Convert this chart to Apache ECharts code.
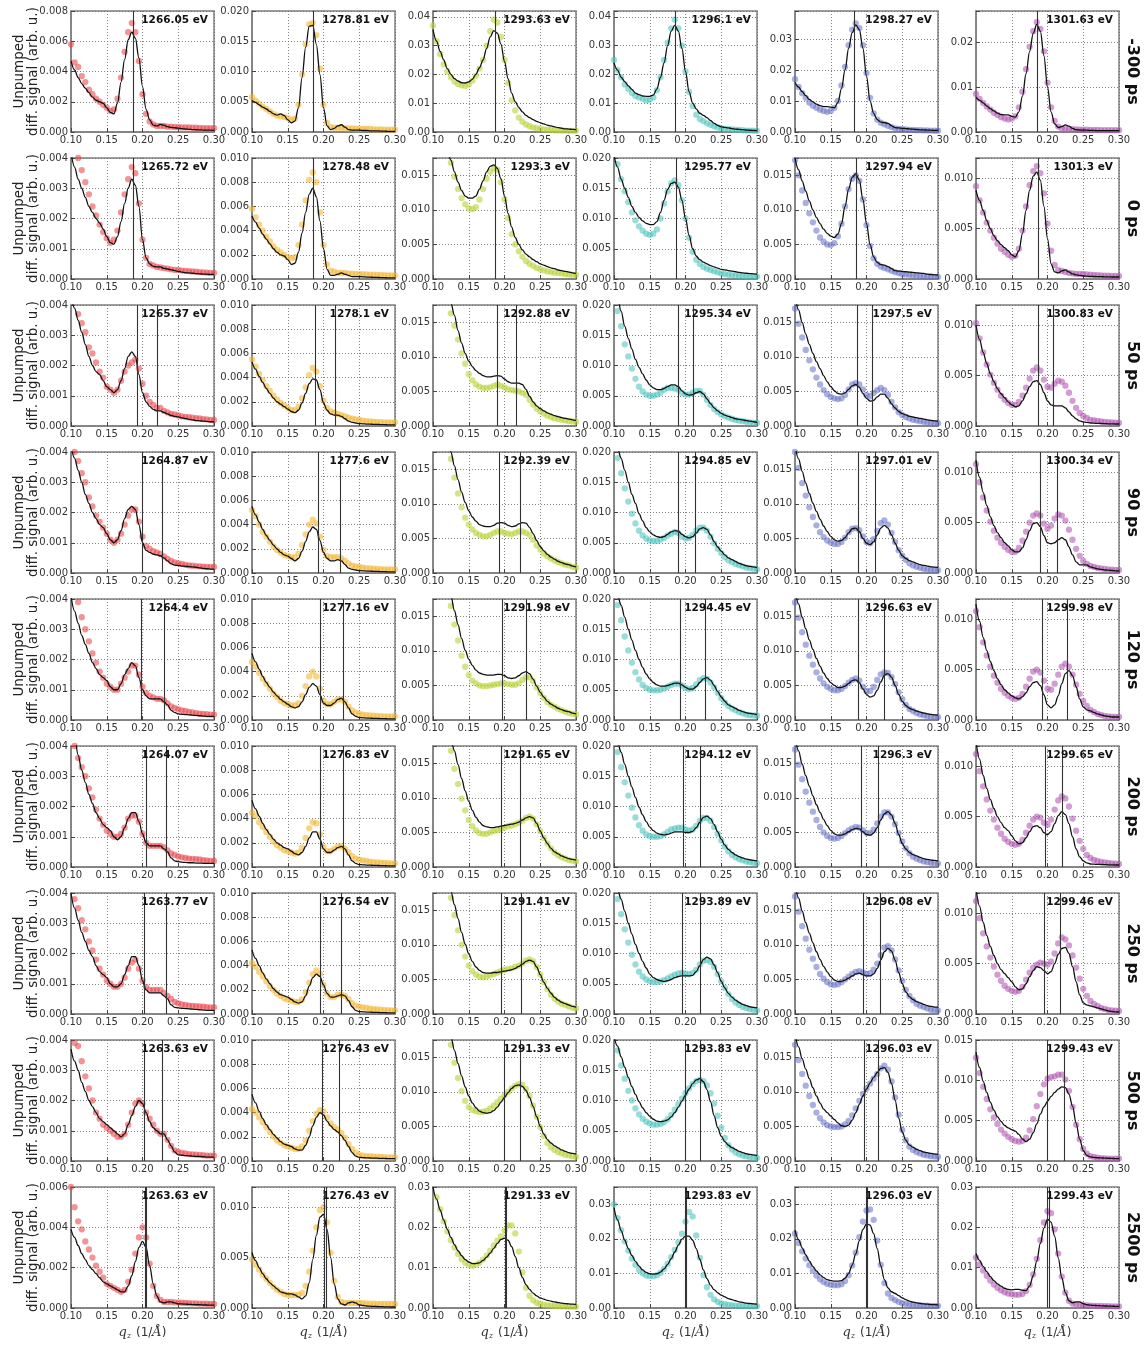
<!DOCTYPE html>
<html>
<head>
<meta charset="utf-8">
<title>Unpumped difference signal vs q_z</title>
<script src="https://cdn.jsdelivr.net/npm/echarts@6/dist/echarts.min.js"></script>
<style>
  html, body { margin: 0; padding: 0; background: #fff; }
  #chart { width: 1146px; height: 1345px; }
</style>
</head>
<body>
<div id="chart"></div>
<script>
// Momentum transfer grid shared by every panel (1/Å)
const q = [0.100,0.105,0.110,0.115,0.120,0.125,0.130,0.135,0.140,0.145,
           0.150,0.155,0.160,0.165,0.170,0.175,0.180,0.185,0.190,0.195,
           0.200,0.205,0.210,0.215,0.220,0.225,0.230,0.235,0.240,0.245,
           0.250,0.255,0.260,0.265,0.270,0.275,0.280,0.285,0.290,0.295,
           0.300];

const delays = ['-300 ps', '0 ps', '50 ps', '90 ps', '120 ps', '200 ps', '250 ps', '500 ps', '2500 ps'];

const energies = [
  ['1266.05', '1278.81', '1293.63', '1296.1', '1298.27', '1301.63'],
  ['1265.72', '1278.48', '1293.3', '1295.77', '1297.94', '1301.3'],
  ['1265.37', '1278.1', '1292.88', '1295.34', '1297.5', '1300.83'],
  ['1264.87', '1277.6', '1292.39', '1294.85', '1297.01', '1300.34'],
  ['1264.4', '1277.16', '1291.98', '1294.45', '1296.63', '1299.98'],
  ['1264.07', '1276.83', '1291.65', '1294.12', '1296.3', '1299.65'],
  ['1263.77', '1276.54', '1291.41', '1293.89', '1296.08', '1299.46'],
  ['1263.63', '1276.43', '1291.33', '1293.83', '1296.03', '1299.43'],
  ['1263.63', '1276.43', '1291.33', '1293.83', '1296.03', '1299.43']
];

// y-axis upper limit and tick step of every panel
const yMax = [
  [0.008, 0.020, 0.042, 0.042, 0.039, 0.027],
  [0.004, 0.010, 0.0175, 0.020, 0.0175, 0.012],
  [0.004, 0.010, 0.0175, 0.020, 0.0175, 0.012],
  [0.004, 0.010, 0.0175, 0.020, 0.0175, 0.012],
  [0.004, 0.010, 0.0175, 0.020, 0.0175, 0.012],
  [0.004, 0.010, 0.0175, 0.020, 0.0175, 0.012],
  [0.004, 0.010, 0.0175, 0.020, 0.0175, 0.012],
  [0.004, 0.010, 0.0175, 0.020, 0.0175, 0.015],
  [0.006, 0.012, 0.030, 0.035, 0.035, 0.030]
];
const yStep = [
  [0.002, 0.005, 0.01, 0.01, 0.01, 0.01],
  [0.001, 0.002, 0.005, 0.005, 0.005, 0.005],
  [0.001, 0.002, 0.005, 0.005, 0.005, 0.005],
  [0.001, 0.002, 0.005, 0.005, 0.005, 0.005],
  [0.001, 0.002, 0.005, 0.005, 0.005, 0.005],
  [0.001, 0.002, 0.005, 0.005, 0.005, 0.005],
  [0.001, 0.002, 0.005, 0.005, 0.005, 0.005],
  [0.001, 0.002, 0.005, 0.005, 0.005, 0.005],
  [0.002, 0.005, 0.01, 0.01, 0.01, 0.01]
];

// Bragg peak positions marked in each panel (1/Å)
const peakMarks = [
  [[0.187], [0.186], [0.187], [0.186], [0.183], [0.186]],
  [[0.187], [0.186], [0.187], [0.187], [0.185], [0.187]],
  [[0.193, 0.220], [0.188, 0.217], [0.190, 0.216], [0.190, 0.211], [0.187, 0.208], [0.187, 0.208]],
  [[0.199, 0.228], [0.193, 0.223], [0.193, 0.222], [0.190, 0.214], [0.189, 0.212], [0.190, 0.214]],
  [[0.198, 0.230], [0.195, 0.227], [0.197, 0.230], [0.193, 0.228], [0.189, 0.225], [0.192, 0.228]],
  [[0.205, 0.233], [0.195, 0.227], [0.196, 0.222], [0.197, 0.221], [0.192, 0.216], [0.197, 0.220]],
  [[0.203, 0.233], [0.195, 0.225], [0.196, 0.224], [0.196, 0.220], [0.196, 0.219], [0.196, 0.218]],
  [[0.203, 0.227], [0.198, 0.222], [0.199, 0.222], [0.200, 0.220], [0.197, 0.216], [0.200, 0.223]],
  [[0.2035, 0.2055], [0.2015, 0.2035], [0.2005, 0.2025], [0.1995, 0.2010], [0.1995, 0.2010], [0.2000, 0.2030]]
];

// Signals below are in units of 1e-3 arb. u., one array per energy column
const meas_m300 = [
  [5.8,4.6,4.3,3.7,3.3,2.8,2.5,2.2,2.0,1.8, 1.6,1.4,1.5,2.2,3.6,5.3,6.6,7.2,6.6,4.7, 2.5,1.2,0.7,0.5,0.4,0.4,0.4,0.35,0.35,0.33, 0.32,0.3,0.3,0.3,0.28,0.28,0.27,0.26,0.26,0.25, 0.25],
  [5.8,5.2,4.7,4.2,3.8,3.4,3.0,2.7,2.6,2.5, 2.3,2.0,2.2,4.5,9.5,14.5,17.8,18.0,16.0,10.5, 4.5,1.5,0.8,0.7,0.7,0.7,0.6,0.6,0.6,0.55, 0.5,0.5,0.5,0.5,0.45,0.45,0.45,0.4,0.4,0.4, 0.4],
  [37,31.5,27,23.5,21,19,17.5,16.6,16.2,16.0, 16.5,17.8,19.5,22,25,30,35,39,38,33, 25,17,11,7.5,5,3.6,2.6,2.0,1.6,1.3, 1.1,0.9,0.8,0.7,0.6,0.55,0.5,0.45,0.4,0.4, 0.4],
  [25,21.5,19,16.5,15,13.5,12.5,12,11.5,11, 11.2,12,14.5,19,25,31,36,39,36,30, 21,14,9,6,4.5,3.8,3,2.5,2,1.6, 1.3,1.1,1,0.9,0.8,0.7,0.6,0.5,0.5,0.45, 0.4],
  [17,14.5,12.5,11,9.5,8.5,7.8,7.2,6.8,6.5, 6.8,7.8,10,15,21,28,33,35,33.5,28, 19,11,6,4,3,2.5,2,1.6,1.2,1, 0.9,0.8,0.7,0.7,0.6,0.6,0.5,0.5,0.45,0.4, 0.4],
  [8.5,7.4,6.5,5.7,5,4.3,3.8,3.3,3,2.8, 3,3.5,5.5,9,14,19,22.5,24.5,23,18, 11,5.5,2.5,1.2,0.8,0.75,0.7,0.65,0.6,0.55, 0.5,0.5,0.48,0.46,0.45,0.44,0.42,0.4,0.4,0.4, 0.4]
];
const fit_m300 = [
  [4.7,4.1,3.6,3.2,2.9,2.6,2.3,2.1,2.0,1.9, 1.6,1.3,1.2,1.9,3.3,4.8,6.1,6.6,6.2,4.9, 3.0,1.5,0.8,0.45,0.4,0.5,0.45,0.35,0.3,0.28, 0.25,0.22,0.2,0.18,0.16,0.15,0.14,0.13,0.12,0.12, 0.11],
  [5.2,4.9,4.5,4.1,3.8,3.4,3.0,2.8,3.0,2.7, 2.0,1.5,1.8,4.0,9.0,14.0,17.5,17.6,14.5,9.5, 4.0,1.0,0.4,0.6,1.0,1.2,0.8,0.4,0.3,0.3, 0.3,0.25,0.25,0.2,0.2,0.2,0.15,0.15,0.1,0.1, 0.1],
  [35.5,31.5,28,25,22,20,18.5,17.7,17.1,17.0, 17.4,18.3,20,22.3,25,29,33,35.2,34.3,30.5, 24.5,18.5,13.5,10.5,8.5,7,5.8,5,4.3,3.7, 3.2,2.8,2.4,2.1,1.8,1.5,1.3,1.1,1.0,0.9, 0.8],
  [24,21.5,19,17.5,16,14.8,13.5,13,12.5,12.4, 12.4,12.8,15,19,24,30,35,37,35,29, 21,14,10,8,6.5,5.8,5,4,3,2.3, 1.8,1.6,1.4,1.2,1.0,0.9,0.8,0.7,0.6,0.55, 0.5],
  [16,14.5,13,11.7,10.5,9.7,9,8.5,8.2,8.2, 8,7.8,9.5,14,20,27,32,34.5,33,27, 18,10,6,4,3.2,3,2.8,2,1.4,1.3, 1.2,1.1,1,0.9,0.8,0.7,0.7,0.6,0.6,0.5, 0.5],
  [7.8,7.1,6.5,5.8,5.2,4.7,4.2,3.9,3.8,3.8, 3.5,3.3,4.5,8,13,18,22,24,22.5,17, 10,4.5,1.8,1,1.2,1.6,1.3,0.8,0.5,0.45, 0.4,0.4,0.35,0.35,0.3,0.3,0.3,0.3,0.3,0.3, 0.3]
];

const meas_0 = [
  [4.8,4.3,4,3.6,3.2,2.8,2.4,2.1,1.8,1.55, 1.35,1.2,1.3,1.6,2.2,2.8,3.3,3.7,3.5,2.5, 1.3,0.7,0.5,0.45,0.4,0.38,0.36,0.34,0.32,0.3, 0.3,0.28,0.27,0.26,0.25,0.24,0.23,0.22,0.21,0.2, 0.2],
  [5.8,5.1,4.5,4,3.5,3.1,2.7,2.4,2.2,2, 1.8,1.7,1.8,2.8,4.5,6.5,8.2,8.8,8,5.5, 2.8,1.2,0.7,0.6,0.5,0.5,0.5,0.45,0.45,0.42, 0.4,0.4,0.38,0.36,0.35,0.34,0.33,0.32,0.3,0.3, 0.3],
  [30,26,23,20.5,18.5,16.8,14.8,13,11.7,10.8, 10.2,10.1,10.4,11.5,13,14.5,15.5,16,15.8,14, 11.5,8.8,6.5,5,4,3.2,2.6,2.2,1.9,1.6, 1.4,1.25,1.1,1,0.9,0.85,0.8,0.7,0.65,0.6, 0.6],
  [21.5,19,16.5,14.5,12.7,11,9.7,8.7,8,7.5, 7.3,7.5,8.2,10,12.5,14.5,15.8,16.3,15.5,13, 10,6.8,4.5,3.2,2.5,2,1.7,1.5,1.3,1.1, 0.9,0.8,0.7,0.65,0.6,0.55,0.5,0.45,0.42,0.4, 0.4],
  [17.2,15,12.8,11,9.5,8.2,7,6,5.4,5, 4.9,5.2,6.2,8,10.5,13,14.5,15,14.2,11.5, 7.8,4.8,3,2.2,1.8,1.6,1.4,1.2,1,0.85, 0.7,0.65,0.6,0.55,0.5,0.45,0.4,0.35,0.33,0.3, 0.3],
  [9.2,7.8,6.6,5.6,4.8,4.1,3.5,3,2.7,2.4, 2.2,2.3,3,4.8,7.2,9.3,10.7,11.2,10.5,8.5, 5.5,2.8,1.4,0.9,0.8,0.7,0.6,0.55,0.5,0.5, 0.5,0.45,0.42,0.4,0.38,0.36,0.34,0.32,0.3,0.3, 0.3]
];
const fit_0 = [
  [4.2,3.7,3.3,3,2.7,2.4,2.2,2,1.85,1.65, 1.4,1.2,1.15,1.4,1.9,2.5,3,3.3,3.1,2.4, 1.3,0.7,0.5,0.42,0.4,0.4,0.35,0.33,0.3,0.28, 0.25,0.23,0.21,0.2,0.19,0.18,0.17,0.16,0.16,0.15, 0.15],
  [5.2,4.7,4.2,3.7,3.3,2.9,2.5,2.2,2,1.9, 1.6,1.2,1.3,2.2,3.8,5.5,7,7.5,6.8,4.8, 2.5,0.8,0.3,0.3,0.4,0.5,0.4,0.3,0.2,0.2, 0.2,0.18,0.16,0.15,0.14,0.13,0.12,0.11,0.1,0.1, 0.1],
  [30,26,23,20.5,18.5,17.2,15.5,14,12.8,12, 11.7,11.7,12,13,14.2,15.5,16.3,16.5,16,14.5, 12,9.5,7.5,6,5,4.2,3.6,3.2,2.8,2.5, 2.2,2,1.8,1.6,1.5,1.3,1.2,1.1,1,0.9, 0.8],
  [20.5,18.5,16.5,15,13.5,12,11,10.2,9.6,9.2, 9,9,9.5,11,13,14.8,15.8,16,15.2,13, 10,7.2,5,3.8,3.2,2.8,2.5,2.2,2,1.8, 1.6,1.5,1.4,1.3,1.2,1.1,1,0.95,0.9,0.85, 0.8],
  [17.5,15.8,14.2,12.7,11.3,10,8.9,8,7.2,6.6, 6.2,6,6.5,8,10.5,13,14.7,15.2,14.3,11.5, 8,5,3.2,2.4,2.1,2,1.8,1.5,1.2,1.15, 1.1,1.05,1,0.95,0.9,0.85,0.8,0.7,0.65,0.6, 0.6],
  [8.8,7.8,6.8,5.8,5,4.3,3.8,3.4,3.1,2.8, 2.4,2.2,2.8,4.5,6.8,8.8,10.2,10.6,9.8,7.2, 4,1.5,0.7,0.6,0.8,0.9,0.7,0.5,0.4,0.35, 0.3,0.28,0.26,0.25,0.24,0.23,0.22,0.21,0.2,0.2, 0.2]
];

const meas_50 = [
  [4.8,4.2,3.7,3.4,3.1,2.6,2.4,2.1,1.8,1.6, 1.3,1.2,1.1,1.2,1.5,1.8,2,2.1,2.2,1.9, 1.4,1,0.8,0.7,0.6,0.6,0.5,0.45,0.4,0.38, 0.35,0.32,0.3,0.29,0.28,0.26,0.25,0.23,0.22,0.2, 0.2],
  [5.5,4.9,4.3,3.8,3.3,2.9,2.5,2.2,1.9,1.7, 1.5,1.3,1.3,1.6,2.3,3.2,4.2,4.8,4.5,3.3, 2.1,1.5,1.2,1.1,1,0.9,0.8,0.7,0.6,0.55, 0.5,0.45,0.4,0.38,0.36,0.34,0.32,0.3,0.3,0.3, 0.3],
  [30,26,23,20.5,18.5,16.3,14.5,12.5,10.5,9, 7.5,6.6,6,5.7,5.5,5.5,5.6,5.8,6,5.8, 5.6,5.3,5.2,5.1,5,4.8,4.5,3.8,3.1,2.5, 2.1,1.8,1.5,1.3,1.1,1,0.9,0.8,0.7,0.65, 0.6],
  [22,19,16.5,13.5,11.5,9.5,7.8,6.5,5.7,5.2, 5,5,5.2,5.5,6,6.3,6.3,6.2,6,5.5, 5.2,5.2,5.5,5.8,5.8,5.2,4.3,3.5,2.8,2.3, 1.9,1.6,1.4,1.2,1,0.9,0.8,0.7,0.6,0.55, 0.5],
  [17,14.8,12.8,11,9.5,8.2,7,6,5.2,4.6, 4.2,4,3.9,4,4.5,5.3,6,6.2,6,5.3, 4.5,4.3,4.8,5.2,5.5,5.2,4.5,3.5,2.7,2, 1.6,1.3,1.1,0.9,0.8,0.7,0.6,0.5,0.45,0.4, 0.4],
  [10.2,8.7,7.3,6.1,5.1,4.3,3.6,3,2.6,2.3, 2.1,2.1,2.4,3,3.8,4.7,5.5,5.8,5.5,4.6, 3.9,3.8,4.2,4.5,4.4,4,3.3,2.5,1.8,1.3, 1,0.8,0.6,0.55,0.5,0.45,0.4,0.38,0.35,0.32, 0.3]
];
const fit_50 = [
  [4.3,3.9,3.5,3.1,2.7,2.3,2,1.8,1.7,1.5, 1.3,1.2,1.1,1.2,1.5,1.9,2.3,2.45,2.3,1.7, 1.1,0.8,0.65,0.55,0.5,0.5,0.45,0.4,0.35,0.32, 0.3,0.27,0.25,0.22,0.2,0.18,0.17,0.16,0.15,0.14, 0.14],
  [5.3,4.7,4.1,3.6,3.1,2.7,2.3,2,1.8,1.6, 1.4,1.2,1.1,1.3,1.9,2.7,3.5,3.9,3.8,3, 1.9,1.3,1,0.9,0.9,0.8,0.6,0.4,0.3,0.25, 0.2,0.18,0.16,0.15,0.14,0.13,0.12,0.11,0.1,0.1, 0.1],
  [32,28,25,22,19.5,17.8,16,13.8,12,10.5, 9.4,8.6,8,7.6,7.3,7.1,7.1,7.2,7.3,7.2, 6.8,6.4,6.2,6.2,6.2,6,5.3,4.3,3.5,2.9, 2.5,2.2,1.9,1.7,1.5,1.35,1.2,1.1,1,0.9, 0.8],
  [23,21,19,16.5,14.5,12.7,11,9.7,8.6,7.6, 6.8,6.3,6,6,6.2,6.5,6.8,6.8,6.5,5.8, 5.3,5.1,5.2,5.5,5.7,5.3,4.5,3.7,3,2.5, 2.1,1.8,1.6,1.4,1.2,1.1,1,0.9,0.8,0.7, 0.6],
  [19,16.8,15,13.3,11.8,10.5,9.3,8.3,7.3,6.4, 5.7,5.1,4.7,4.6,4.8,5.3,5.8,6,5.6,4.7, 4,3.6,3.7,4.2,4.6,4.6,4,3.2,2.6,2.1, 1.8,1.6,1.4,1.3,1.2,1.1,1,0.9,0.8,0.75, 0.7],
  [10,8.6,7.3,6.2,5.2,4.4,3.7,3.2,2.8,2.4, 2.1,1.9,2,2.5,3.2,3.9,4.4,4.5,4.1,3.3, 2.5,2.1,2,2,2,1.8,1.4,1,0.7,0.5, 0.4,0.35,0.3,0.28,0.26,0.25,0.24,0.22,0.21,0.2, 0.2]
];

const meas_90 = [
  [4.5,4,3.7,3.3,3,2.5,2.2,1.9,1.7,1.5, 1.3,1.1,1,1.1,1.3,1.6,1.9,2.1,2.1,1.7, 1.2,0.9,0.8,0.72,0.68,0.63,0.55,0.47,0.4,0.35, 0.32,0.3,0.27,0.25,0.24,0.23,0.22,0.21,0.2,0.2, 0.2],
  [5.2,4.7,4,3.4,3,2.6,2.2,1.9,1.7,1.5, 1.4,1.3,1.3,1.6,2.3,3.2,4,4.4,4.1,3, 1.9,1.4,1.3,1.3,1.3,1.2,1,0.8,0.6,0.55, 0.5,0.45,0.4,0.38,0.36,0.34,0.32,0.3,0.3,0.3, 0.3],
  [30,26,23,20.5,18.5,16.5,13.8,11.5,9.5,8, 7,6.3,5.8,5.5,5.3,5.3,5.5,5.8,6,6, 5.8,5.7,5.6,5.8,6,6,5.8,5.5,4.8,4, 3.4,2.8,2.4,2.1,1.8,1.6,1.4,1.2,1.1,0.9, 0.8],
  [22,19,16.5,14,11.8,9.8,8.2,7,6.2,5.7, 5.4,5.3,5.3,5.5,5.8,6.2,6.5,6.8,6.6,6, 5.7,5.8,6.3,7,7.5,7.5,7,6,4.9,4, 3.3,2.6,2.1,1.8,1.5,1.3,1.1,0.9,0.8,0.7, 0.6],
  [17.5,15.2,13,11.2,9.5,8.1,6.9,5.9,5.2,4.7, 4.4,4.2,4.2,4.5,5.1,5.9,6.4,6.5,6.2,5.3, 4.5,4.3,4.9,6.1,7.2,7.6,7,5.8,4.5,3.3, 2.5,1.9,1.4,1.1,0.9,0.75,0.6,0.5,0.45,0.4, 0.4],
  [10.8,9,7.5,6.2,5.1,4.2,3.5,3,2.6,2.3, 2.1,2.1,2.5,3.2,4.1,5,5.7,5.9,5.7,4.9, 4.4,4.7,5.4,5.8,5.7,5.2,4.3,3.3,2.4,1.7, 1.2,0.9,0.7,0.6,0.5,0.45,0.4,0.35,0.32,0.3, 0.3]
];
const fit_90 = [
  [4.2,3.8,3.4,3,2.6,2.3,2,1.8,1.6,1.5, 1.3,1.1,1,1.1,1.4,1.8,2.1,2.2,2.1,1.6, 1,0.75,0.68,0.62,0.6,0.57,0.5,0.4,0.3,0.26, 0.25,0.23,0.22,0.21,0.2,0.19,0.17,0.15,0.14,0.13, 0.13],
  [5.5,4.8,4.2,3.6,3.1,2.7,2.3,2,1.7,1.5, 1.4,1.2,1,1.2,1.8,2.6,3.4,3.8,3.6,2.7, 1.7,1.2,1,1,1.1,1,0.7,0.4,0.3,0.25, 0.2,0.18,0.16,0.15,0.14,0.13,0.12,0.11,0.1,0.1, 0.1],
  [32,28,25,22,19.5,17.5,15.5,13.5,11.7,10.2, 9,8.1,7.5,7,6.8,6.7,6.7,6.9,7.2,7.3, 7.2,6.9,6.7,6.8,7.1,7.3,7.2,6.6,5.7,4.7, 3.8,3.2,2.7,2.3,2,1.7,1.5,1.3,1.2,1, 0.9],
  [22,20.5,19,17,15,13,11.5,9.8,8.6,7.5, 6.8,6.3,6,5.9,6,6.4,6.8,7,6.9,6.4, 6,5.8,6,6.6,7.3,7.5,7.2,6.3,5.2,4.3, 3.6,3,2.5,2.2,1.9,1.6,1.4,1.2,1.1,1, 0.9],
  [18.5,16.5,14.7,13,11.5,10.1,8.9,7.8,6.8,6, 5.3,4.8,4.6,4.7,5.1,5.8,6.4,6.5,6,5, 4.3,4.1,4.5,5.5,6.5,6.9,6.5,5.5,4.3,3.3, 2.5,2.1,1.8,1.6,1.4,1.2,1.1,1,0.9,0.85, 0.8],
  [11.2,9.5,8,6.7,5.6,4.7,4,3.5,3,2.7, 2.3,2.1,2.1,2.5,3.3,4.2,4.9,5,4.6,3.7, 3,2.9,3,3.3,3.5,3.3,2.6,1.8,1.1,0.8, 0.8,0.8,0.6,0.5,0.4,0.35,0.3,0.28,0.25,0.22, 0.2]
];

const meas_120 = [
  [4.3,4.2,3.9,3.4,3,2.6,2.2,1.9,1.6,1.4, 1.2,1.1,1,1,1.2,1.4,1.6,1.8,1.8,1.5, 1.1,0.9,0.8,0.75,0.7,0.7,0.65,0.55,0.45,0.4, 0.35,0.32,0.3,0.27,0.25,0.23,0.21,0.2,0.19,0.18, 0.18],
  [4.8,4.4,3.9,3.4,3,2.6,2.2,1.9,1.6,1.4, 1.3,1.2,1.2,1.4,2,2.8,3.6,4,3.6,2.6, 1.6,1.3,1.3,1.5,1.7,1.7,1.5,1.1,0.8,0.6, 0.5,0.45,0.4,0.38,0.36,0.34,0.32,0.3,0.3,0.3, 0.3],
  [30,26,23,20.5,18.5,16.5,13.8,11.5,9.3,7.7, 6.5,5.7,5.3,5,4.9,4.9,5,5.1,5.2,5.3, 5.3,5.2,5.1,5.1,5.3,5.8,6.2,6.2,5.6,4.7, 3.9,3.2,2.6,2.2,1.9,1.6,1.4,1.2,1,0.9, 0.8],
  [22,19,16.5,13.8,11.5,9.5,7.9,6.7,5.8,5.3, 5,4.9,4.9,5,5.2,5.5,5.8,6,6,5.7, 5.3,5.1,5.3,5.9,6.6,6.9,6.8,6.2,5.4,4.5, 3.6,2.9,2.3,1.9,1.6,1.3,1.1,0.9,0.8,0.75, 0.7],
  [17,14.8,12.7,10.9,9.3,8,6.9,6,5.3,4.8, 4.5,4.3,4.3,4.5,4.9,5.4,5.8,6,5.7,4.8, 4.2,4.2,4.8,5.8,6.6,6.9,6.8,6.2,5.2,4, 3,2.2,1.6,1.3,1,0.8,0.7,0.55,0.45,0.4, 0.4],
  [10.8,9.2,7.7,6.4,5.3,4.4,3.7,3.1,2.7,2.4, 2.2,2.1,2.2,2.6,3.3,4.1,4.8,5,4.7,3.9, 3.1,3,3.6,4.5,5.3,5.6,5.3,4.5,3.5,2.6, 1.9,1.4,1,0.8,0.6,0.5,0.4,0.35,0.32,0.3, 0.3]
];
const fit_120 = [
  [4.1,3.6,3.2,2.8,2.5,2.2,1.9,1.7,1.5,1.4, 1.3,1.1,1,1,1.2,1.5,1.7,1.9,1.8,1.4, 1,0.8,0.7,0.7,0.7,0.7,0.6,0.5,0.32,0.25, 0.2,0.19,0.18,0.17,0.16,0.15,0.14,0.13,0.12,0.12, 0.12],
  [5.5,4.8,4.2,3.6,3.1,2.7,2.3,2,1.7,1.5, 1.3,1.1,1,1.1,1.5,2.1,2.7,3,2.8,2.1, 1.4,1.2,1.2,1.4,1.7,1.8,1.5,1,0.5,0.3, 0.2,0.18,0.16,0.15,0.14,0.13,0.12,0.11,0.1,0.1, 0.1],
  [32,28,25,22,20,18,15.8,13.8,11.8,10.1, 8.8,7.9,7.2,6.8,6.6,6.5,6.5,6.5,6.6,6.6, 6.4,6.1,6,6.1,6.4,6.8,7,6.7,5.9,4.9, 4,3.3,2.7,2.3,2,1.7,1.5,1.3,1.2,1, 0.9],
  [22,20.5,19,17,15,13.2,11.5,10,8.7,7.6, 6.8,6.2,5.8,5.6,5.6,5.7,5.9,6.1,6.1,5.8, 5.4,5.1,5.1,5.5,6.2,6.8,7,6.6,5.7,4.7, 3.8,3.1,2.5,2.2,1.9,1.6,1.4,1.2,1.1,1, 0.9],
  [19,16.8,14.9,13.2,11.6,10.2,8.9,7.8,6.8,6, 5.4,5,4.7,4.7,4.9,5.3,5.7,5.8,5.4,4.5, 3.7,3.3,3.5,4.3,5.5,6.5,6.7,6.2,5,3.7, 2.7,2.1,1.7,1.5,1.3,1.15,1,0.9,0.8,0.75, 0.7],
  [11.5,9.8,8.2,6.9,5.8,4.9,4.1,3.5,3,2.7, 2.4,2.2,2.1,2.3,2.7,3.3,3.7,3.8,3.4,2.5, 1.5,1.2,1.5,2.4,3.6,4.6,4.9,4.4,3.3,2.1, 1.3,1,0.9,0.75,0.6,0.5,0.4,0.35,0.3,0.3, 0.3]
];

const meas_200 = [
  [4.2,4,3.6,3.3,3,2.6,2.3,1.9,1.6,1.4, 1.2,1.1,1,1,1.1,1.3,1.6,1.7,1.7,1.5, 1.1,0.8,0.7,0.7,0.7,0.7,0.65,0.55,0.45,0.4, 0.35,0.32,0.3,0.28,0.27,0.26,0.25,0.23,0.22,0.2, 0.2],
  [4.5,4.2,3.7,3.3,2.9,2.5,2.1,1.8,1.6,1.4, 1.3,1.2,1.1,1.2,1.6,2.4,3.2,3.7,3.6,2.7, 1.7,1.3,1.3,1.5,1.7,1.7,1.5,1.2,0.9,0.7, 0.6,0.55,0.5,0.45,0.4,0.38,0.35,0.33,0.32,0.3, 0.3],
  [31,27,24,21,19,16.8,14.2,12,9.9,8.2, 6.8,5.9,5.3,4.9,4.8,4.8,5,5.2,5.3,5.5, 5.7,5.9,6,6.2,6.4,6.7,7.1,7.3,7,6.2, 5.2,4.2,3.4,2.7,2.1,1.7,1.4,1.2,1,0.9, 0.8],
  [22,19,16.5,14,11.8,9.8,8.2,6.9,6,5.4, 5.1,5,5,5.1,5.4,5.8,6.2,6.4,6.5,6.5, 6.2,6,6.2,6.8,7.6,8.1,8.1,7.6,6.6,5.5, 4.4,3.4,2.6,2,1.6,1.3,1.1,0.9,0.8,0.7, 0.6],
  [17,14.8,12.7,10.9,9.3,8,6.8,5.8,5,4.5, 4.2,4.1,4.2,4.5,4.9,5.3,5.6,5.8,5.7,5.3, 4.9,4.9,5.4,6.3,7.3,7.9,7.9,7.3,6.2,4.9, 3.7,2.7,2,1.5,1.2,1,0.8,0.7,0.6,0.55, 0.5],
  [11.2,9.5,8,6.7,5.6,4.7,3.9,3.3,2.8,2.5, 2.3,2.2,2.3,2.7,3.4,4.1,4.7,5,4.9,4.4, 4.2,4.7,5.7,6.6,7,6.8,6,4.8,3.6,2.6, 1.8,1.2,0.9,0.7,0.6,0.5,0.45,0.4,0.35,0.32, 0.3]
];
const fit_200 = [
  [4.8,4.3,3.7,3.2,2.8,2.4,2.1,1.8,1.6,1.4, 1.3,1.2,1,0.9,1,1.3,1.6,1.8,1.8,1.5, 1.1,0.8,0.7,0.7,0.7,0.7,0.6,0.5,0.3,0.2, 0.18,0.16,0.15,0.14,0.14,0.13,0.13,0.12,0.12,0.12, 0.12],
  [5.5,4.8,4.2,3.6,3.1,2.7,2.3,2,1.8,1.6, 1.5,1.3,1.1,1,1.2,1.7,2.4,2.9,2.9,2.3, 1.5,1.2,1.2,1.4,1.6,1.7,1.5,1,0.5,0.3, 0.2,0.18,0.16,0.15,0.14,0.13,0.12,0.11,0.1,0.1, 0.1],
  [33,29,26,23,20.5,18.5,16.8,14.8,12.8,11, 9.5,8.2,7.2,6.5,6,5.8,5.7,5.7,5.8,5.9, 6,6.1,6.2,6.3,6.5,6.8,7.1,7.3,7.1,6.3, 5.2,4.2,3.4,2.7,2.2,1.9,1.6,1.4,1.2,1.1, 1],
  [22,20.5,19,17,15,13.2,11.5,9.9,8.6,7.5, 6.6,6,5.6,5.4,5.3,5.4,5.6,5.8,5.8,5.8, 5.7,5.7,5.9,6.5,7.4,8.2,8.4,8,7,5.8, 4.6,3.6,2.9,2.4,2,1.7,1.5,1.3,1.2,1.1, 1],
  [19,16.8,14.9,13.2,11.7,10.3,9,7.9,6.9,6, 5.3,4.8,4.6,4.6,4.8,5.1,5.4,5.6,5.5,5.1, 4.7,4.6,4.9,5.7,6.8,7.7,8,7.5,6.3,4.7, 3.4,2.6,2.1,1.8,1.6,1.4,1.2,1.1,1,0.95, 0.9],
  [12.5,10.7,9.1,7.8,6.7,5.8,5,4.4,3.9,3.6, 3.1,2.6,2.3,2.4,2.9,3.5,4,4.1,3.9,3.4, 3.2,3.5,4.3,5.1,5.5,5.2,4.3,3,1.8,1, 0.6,0.4,0.3,0.28,0.26,0.25,0.24,0.22,0.21,0.2, 0.2]
];

const meas_250 = [
  [4.2,3.8,3.5,3.1,2.8,2.4,2.1,1.8,1.5,1.3, 1.1,1,0.9,0.9,1,1.2,1.5,1.7,1.8,1.5, 1.1,0.9,0.8,0.8,0.8,0.8,0.7,0.6,0.5,0.4, 0.35,0.32,0.3,0.28,0.27,0.26,0.25,0.24,0.23,0.22, 0.22],
  [4.2,3.9,3.5,3.1,2.7,2.3,2,1.7,1.5,1.3, 1.2,1.1,1,1,1.2,1.8,2.6,3.3,3.6,3.3, 2.4,1.7,1.4,1.4,1.6,1.6,1.5,1.2,0.9,0.7, 0.6,0.55,0.5,0.45,0.4,0.38,0.35,0.33,0.32,0.3, 0.3],
  [31,27,24,21,19,16.8,14.3,12.1,10,8.3, 7,6.2,5.7,5.4,5.3,5.4,5.6,5.8,6,6.2, 6.4,6.5,6.6,6.8,7,7.3,7.7,7.9,7.6,6.8, 5.7,4.6,3.6,2.8,2.2,1.8,1.5,1.3,1.1,0.9, 0.8],
  [22,19,16.5,14,11.8,9.8,8.2,7,6.2,5.7, 5.4,5.3,5.3,5.4,5.6,5.9,6.2,6.5,6.7,6.8, 6.7,6.6,6.8,7.3,8.2,8.8,8.9,8.6,7.8,6.6, 5.4,4.3,3.3,2.5,1.9,1.5,1.2,1,0.8,0.7, 0.6],
  [17,14.8,12.7,10.9,9.3,8,6.8,5.8,5.1,4.6, 4.3,4.2,4.3,4.6,5,5.4,5.8,6.1,6.2,6, 5.8,5.9,6.4,7.3,8.5,9.6,9.8,9.2,7.9,6.3, 4.8,3.5,2.6,2,1.5,1.2,1,0.8,0.6,0.55, 0.5],
  [11.2,9.5,8,6.7,5.6,4.7,3.9,3.3,2.8,2.5, 2.3,2.2,2.3,2.7,3.4,4.1,4.6,4.9,5.1,5, 4.9,5.2,6,7,7.6,7.4,6.8,5.8,4.6,3.5, 2.5,1.8,1.3,1,0.8,0.6,0.5,0.4,0.35,0.32, 0.3]
];
const fit_250 = [
  [4,3.5,3.1,2.7,2.4,2.1,1.9,1.6,1.4,1.3, 1.2,1,0.9,0.9,1,1.3,1.6,1.9,1.9,1.6, 1.1,0.8,0.7,0.7,0.7,0.7,0.6,0.5,0.3,0.22, 0.2,0.19,0.18,0.17,0.16,0.15,0.14,0.13,0.12,0.12, 0.12],
  [5.3,4.6,4,3.4,2.9,2.5,2.1,1.8,1.6,1.5, 1.4,1.2,1,0.9,1,1.5,2.3,3,3.3,3.1, 2.4,1.7,1.4,1.4,1.5,1.6,1.5,1.1,0.6,0.3, 0.2,0.18,0.16,0.15,0.14,0.13,0.12,0.11,0.1,0.1, 0.1],
  [33,29,26,23,20.5,17.8,15.8,13.8,11.8,10.1, 8.7,7.6,6.8,6.3,6,5.9,5.9,6,6,6.1, 6.2,6.3,6.4,6.6,6.9,7.2,7.6,7.8,7.6,6.8, 5.7,4.6,3.7,3,2.4,2,1.7,1.5,1.3,1.1, 1],
  [22,20.5,19,17,15,13.2,11.5,10,8.7,7.6, 6.6,6,5.7,5.5,5.4,5.5,5.7,6,6.2,6.3, 6.3,6.3,6.4,7,8,9,9.4,9.1,8.1,6.8, 5.4,4.3,3.4,2.8,2.3,1.9,1.6,1.4,1.2,1.1, 1],
  [19,16.8,14.9,13.2,11.7,10.3,9,7.9,6.9,6.1, 5.4,4.9,4.7,4.7,4.9,5.2,5.5,5.8,5.9,5.7, 5.5,5.5,5.8,6.6,7.8,9,9.5,9.1,7.8,6, 4.4,3.2,2.5,2.1,1.8,1.6,1.4,1.2,1.1,1, 1],
  [12.5,10.7,9.1,7.8,6.7,5.8,5,4.4,4,3.6, 3.2,2.7,2.4,2.5,3,3.7,4.3,4.7,4.6,4.3, 4,4.2,5,5.9,6.5,6.6,6,4.7,3.2,1.9, 1.1,0.9,0.8,0.7,0.6,0.5,0.4,0.3,0.25,0.22, 0.2]
];

const meas_500 = [
  [4.5,3.9,3.8,3.3,2.8,2.4,2,1.6,1.4,1.2, 1.1,1,0.9,0.8,0.8,0.9,1.2,1.6,1.9,2, 1.9,1.6,1.4,1.2,1,0.9,0.9,0.7,0.5,0.35, 0.3,0.27,0.25,0.23,0.22,0.21,0.2,0.19,0.18,0.18, 0.18],
  [4.3,4,3.6,3.2,2.8,2.4,2,1.7,1.5,1.3, 1.2,1.1,1,1,1.2,1.7,2.5,3.3,3.9,4.2, 4.1,3.6,3.1,2.8,2.6,2.3,1.9,1.4,1,0.7, 0.5,0.45,0.4,0.4,0.38,0.36,0.34,0.32,0.3,0.3, 0.3],
  [31,27,24,21,19,16.8,14.2,12,10.1,8.7, 7.8,7.4,7.2,7.1,7.1,7.3,7.6,8,8.5,9, 9.5,10,10.5,10.9,11.1,11,10.4,9.4,8,6.4, 4.9,3.6,2.6,2,1.6,1.3,1.1,0.9,0.8,0.7, 0.6],
  [21,18.3,15.8,13.6,11.6,10,8.7,7.7,7,6.5, 6.2,6,6,6.1,6.4,6.9,7.6,8.5,9.4,10.3, 11.2,12,12.7,13.2,13.4,13.2,12.5,11.2,9.5,7.5, 5.5,3.8,2.6,1.9,1.4,1.1,0.9,0.75,0.65,0.55, 0.5],
  [16.8,14.6,12.6,10.9,9.4,8.1,7,6.2,5.6,5.2, 5,4.9,4.9,5,5.3,5.8,6.6,7.6,8.7,9.7, 10.5,11.2,11.9,12.6,13.4,13.8,13.2,11.5,9.2,6.7, 4.5,3,2.1,1.6,1.3,1.1,0.9,0.8,0.7,0.65, 0.6],
  [12.8,10.9,9.2,7.7,6.4,5.4,4.6,3.9,3.4,3, 2.7,2.5,2.4,2.5,2.9,3.8,5.2,6.8,8.3,9.5, 10.2,10.4,10.5,10.7,10.7,10.1,8.7,6.7,4.5,2.7, 1.5,0.9,0.6,0.5,0.4,0.35,0.32,0.3,0.3,0.3, 0.3]
];
const fit_500 = [
  [3.7,3.3,3,2.6,2.3,2,1.8,1.6,1.4,1.3, 1.2,1.1,1,0.9,0.8,0.9,1.2,1.5,1.8,2, 1.9,1.6,1.3,1.1,1,0.9,0.9,0.7,0.5,0.3, 0.2,0.19,0.18,0.17,0.16,0.15,0.15,0.14,0.13,0.13, 0.13],
  [5.5,4.8,4.1,3.5,3,2.6,2.2,1.9,1.6,1.4, 1.3,1.2,1,0.9,0.9,1.3,2,2.9,3.6,4, 3.8,3.3,2.9,2.6,2.4,2.1,1.7,1.2,0.7,0.4, 0.3,0.28,0.26,0.25,0.24,0.23,0.22,0.21,0.2,0.2, 0.2],
  [33,29,26,23,20.5,18,16,14.1,12.3,10.7, 9.4,8.4,7.7,7.2,7,6.9,7,7.3,7.8,8.5, 9.2,9.9,10.5,10.9,11,10.8,10.2,9.2,7.9,6.4, 5,3.9,3.1,2.6,2.2,1.9,1.6,1.4,1.2,1.1, 1],
  [20.5,19,17.2,15.5,13.8,12.3,11,9.8,8.8,8, 7.4,6.9,6.6,6.5,6.6,6.8,7.3,8,8.9,9.9, 10.9,11.9,12.8,13.4,13.6,13.1,11.8,9.8,7.5,5.5, 4.1,3.2,2.6,2.2,1.9,1.6,1.4,1.2,1.1,1, 0.9],
  [18.5,16.5,14.8,13.3,11.9,10.6,9.4,8.4,7.5,7, 6.5,6,5.5,5.1,5,5.2,5.9,7,8.2,9.4, 10.4,11.3,12.1,12.8,13.4,13.5,12.8,11.2,8.8,6.2, 4.2,3,2.3,2,1.7,1.5,1.3,1.2,1.1,1, 1],
  [13.5,11.6,9.9,8.5,7.3,6.3,5.5,4.9,4.4,4.1, 3.9,3.7,3.3,2.7,2.4,2.7,3.5,4.6,5.8,6.7, 7.4,8,8.5,8.9,9.2,9.1,8.3,6.8,4.7,2.7, 1.3,0.7,0.5,0.45,0.4,0.38,0.36,0.34,0.32,0.3, 0.3]
];

const meas_2500 = [
  [6,5,4.3,3.9,3.3,2.9,2.5,2.1,1.8,1.5, 1.2,1.1,1,0.9,0.8,0.9,1.3,1.9,2.7,3.5, 4,3.5,2.2,1.1,0.6,0.4,0.3,0.3,0.3,0.28, 0.27,0.26,0.25,0.24,0.23,0.23,0.22,0.22,0.21,0.2, 0.2],
  [4.8,4.3,3.8,3.3,2.9,2.5,2.1,1.8,1.6,1.4, 1.3,1.3,1.3,1.3,1.5,2.2,3.6,5.7,8,9.7, 10,8.5,5.5,2.7,1.1,0.6,0.5,0.5,0.5,0.5, 0.5,0.48,0.46,0.44,0.42,0.41,0.4,0.4,0.4,0.4, 0.4],
  [31,27.5,24.5,21.5,19,16.8,15,13.4,12.1,11.2, 10.7,10.5,10.7,11.2,12,13,14.2,15.5,16.7,17.8, 19.2,20.5,20.5,18.5,14,8.8,5,3,1.9,1.3, 1,0.85,0.7,0.6,0.5,0.45,0.4,0.35,0.32,0.3, 0.3],
  [30,26,22.5,19.3,16.6,14.3,12.5,11,10,9.4, 9.2,9.2,9.5,10.2,11.3,12.8,14.7,16.8,19,21.5, 25,27.8,26.5,21,14.5,9.5,6,3.8,2.5,1.8, 1.3,1.1,0.9,0.8,0.7,0.65,0.6,0.55,0.5,0.5, 0.5],
  [21.5,18.8,16.4,14.3,12.4,10.8,9.4,8.3,7.5,7, 6.7,6.6,6.6,6.9,7.8,9.5,12.3,16,20.5,25, 28.2,28.5,25.5,19.5,12.5,7.2,4.2,2.9,2.3,1.8, 1.4,1.2,1,0.9,0.8,0.75,0.7,0.65,0.62,0.6, 0.6],
  [12.5,10.8,9.3,8,6.8,5.8,5,4.4,3.9,3.6, 3.4,3.3,3.3,3.5,4.2,5.7,8.3,12.2,16.8,21.2, 24,23.5,19.5,13.5,7.8,3.8,1.8,1.1,0.9,0.8, 0.7,0.65,0.6,0.55,0.5,0.5,0.48,0.45,0.42,0.4, 0.4]
];
const fit_2500 = [
  [3.9,3.5,3.1,2.7,2.4,2.1,1.9,1.7,1.5,1.3, 1.2,1.1,1,0.9,0.8,0.8,1.1,1.6,2.3,3, 3.3,3,2.1,1.2,0.6,0.3,0.25,0.3,0.3,0.25, 0.2,0.2,0.19,0.18,0.17,0.16,0.16,0.15,0.15,0.14, 0.14],
  [5.5,4.7,4,3.4,2.9,2.5,2.2,1.9,1.6,1.5, 1.4,1.4,1.3,1.1,0.9,1.2,2.5,4.8,7.2,9, 9.3,7.8,5,2.4,0.9,0.4,0.3,0.5,0.6,0.5, 0.3,0.25,0.2,0.18,0.16,0.15,0.14,0.12,0.11,0.1, 0.1],
  [30,27,24.3,21.8,19.5,17.5,15.7,14.2,13,12, 11.4,11,11,11.2,11.8,12.6,13.6,14.8,16,17, 17.3,16.8,15.2,12.8,10,7.6,5.8,4.6,3.7,3, 2.5,2.2,1.9,1.7,1.5,1.35,1.2,1.1,1,0.95, 0.9],
  [29,25.5,22.4,19.6,17.2,15.2,13.5,12.1,11,10.3, 9.9,9.8,9.9,10.4,11.3,12.6,14.3,16.2,18.2,19.9, 20.8,20.8,19.6,17.2,14.1,11,8.5,6.6,5.3,4.4, 3.7,3.2,2.7,2.4,2.1,1.8,1.6,1.4,1.3,1.2, 1.1],
  [22.5,19.8,17.4,15.4,13.6,12,10.7,9.6,8.8,8.2, 7.9,7.8,7.8,7.9,8.6,10,12.4,15.7,19.5,22.7, 24.3,24,21.5,17.2,12.2,8.2,5.8,4.7,4.2,3.6, 2.9,2.4,2,1.7,1.5,1.3,1.2,1.1,1,0.95, 0.9],
  [13.5,11.8,10.3,9,7.8,6.8,6,5.4,4.9,4.6, 4.5,4.6,4.6,4.4,4.3,5.5,8,11.7,16,19.8, 22,21.3,17.8,12.5,7.5,3.8,1.8,1.3,1.5,1.5, 1.1,0.8,0.7,0.65,0.6,0.55,0.5,0.48,0.45,0.42, 0.4]
];

const measuredRows = [meas_m300, meas_0, meas_50, meas_90, meas_120, meas_200, meas_250, meas_500, meas_2500];
const fitRows = [fit_m300, fit_0, fit_50, fit_90, fit_120, fit_200, fit_250, fit_500, fit_2500];
const UNIT = 1e-3;

// Panel layout (pixels)
const GRID_LEFT = 71, COL_STEP = 181, PLOT_W = 143;
const GRID_TOP = 11, ROW_STEP = 147, PLOT_H = 121;
const FONT = '"DejaVu Sans", "Liberation Sans", sans-serif';

const pointColors = [
  'rgba(232, 62, 68, 0.7)',
  'rgba(242, 178, 40, 0.7)',
  'rgba(186, 210, 52, 0.74)',
  'rgba(72, 194, 188, 0.7)',
  'rgba(102, 112, 198, 0.7)',
  'rgba(174, 80, 176, 0.7)'
];

const frameColor = '#808080';
const tickColor = '#444';

const option = {
  animation: false,
  backgroundColor: '#ffffff',
  textStyle: { fontFamily: FONT },
  grid: [], xAxis: [], yAxis: [], series: [], graphic: []
};

for (let r = 0; r < delays.length; r++) {
  for (let c = 0; c < 6; c++) {
    const idx = r * 6 + c;
    const left = GRID_LEFT + c * COL_STEP;
    const top = GRID_TOP + r * ROW_STEP;
    const meas = measuredRows[r][c];
    const fit = fitRows[r][c];
    if (meas.length !== q.length || fit.length !== q.length) {
      throw new Error('length mismatch in panel ' + delays[r] + ' / ' + energies[r][c] + ': ' + meas.length + ', ' + fit.length);
    }
    const step = yStep[r][c];
    const decimals = step >= 0.01 ? 2 : 3;

    option.grid.push({
      left: left, top: top, width: PLOT_W, height: PLOT_H,
      show: true, borderColor: frameColor, borderWidth: 1.5,
      backgroundColor: 'transparent', containLabel: false, outerBoundsMode: 'none'
    });

    const isBottom = r === delays.length - 1;
    option.xAxis.push({
      gridIndex: idx, type: 'value', min: 0.1, max: 0.3, interval: 0.05,
      axisLine: { show: true, onZero: false, lineStyle: { color: frameColor, width: 1.5 } },
      axisTick: { show: true, inside: true, length: 4, lineStyle: { color: tickColor } },
      axisLabel: {
        fontSize: 10, color: '#333', margin: 3, fontFamily: FONT,
        formatter: v => v.toFixed(2)
      },
      splitLine: { show: true, lineStyle: { type: [1, 2], color: '#666', width: 0.8 } },
      name: isBottom ? '{i|q}{s|z} (1/{i|Å})' : '',
      nameLocation: 'middle', nameGap: 18, nameMoveOverlap: false,
      nameTextStyle: {
        fontSize: 12, color: '#333', fontFamily: FONT,
        rich: {
          i: { fontSize: 13, fontStyle: 'italic', fontFamily: '"DejaVu Serif", serif', color: '#333' },
          s: { fontSize: 8, fontStyle: 'italic', fontFamily: '"DejaVu Serif", serif', color: '#333', verticalAlign: 'bottom', padding: [6, 1, 0, 0] }
        }
      }
    });

    option.yAxis.push({
      gridIndex: idx, type: 'value', min: 0, max: yMax[r][c], interval: step,
      axisLine: { show: true, lineStyle: { color: frameColor, width: 1.5 } },
      axisTick: { show: true, inside: true, length: 4, lineStyle: { color: tickColor } },
      axisLabel: {
        fontSize: 10, color: '#333', margin: 3, fontFamily: FONT,
        formatter: v => {
          const k = v / step;
          if (Math.abs(k - Math.round(k)) > 1e-6) return '';
          return v.toFixed(decimals);
        }
      },
      splitLine: { show: true, lineStyle: { type: [1, 2], color: '#666', width: 0.8 } },
      name: c === 0 ? 'Unpumped\ndiff. signal (arb. u.)' : '',
      nameLocation: 'middle', nameRotate: 90, nameGap: 31, nameMoveOverlap: false,
      nameTextStyle: { fontSize: 13.5, color: '#222', lineHeight: 14, fontFamily: FONT, align: 'center' }
    });

    option.series.push({
      type: 'scatter', xAxisIndex: idx, yAxisIndex: idx,
      data: q.map((x, i) => [x, meas[i] * UNIT]),
      symbol: 'circle', symbolSize: 6.3,
      itemStyle: { color: pointColors[c] },
      clip: true, silent: true, z: 2
    });

    option.series.push({
      type: 'line', xAxisIndex: idx, yAxisIndex: idx,
      data: q.map((x, i) => [x, fit[i] * UNIT]),
      showSymbol: false, symbol: 'none', smooth: 0.35, smoothMonotone: 'x',
      lineStyle: { color: '#111', width: 1.3 },
      clip: true, silent: true, z: 3,
      markLine: {
        silent: true, symbol: ['none', 'none'], animation: false,
        precision: 5,
        label: { show: false },
        lineStyle: { color: '#333', width: 1.1, type: 'solid' },
        data: peakMarks[r][c].map(x => ({ xAxis: x }))
      }
    });

    // energy tag in the upper right corner of the panel
    option.graphic.push({
      type: 'text', z: 100,
      x: left + PLOT_W - 6, y: top + 4,
      style: {
        text: energies[r][c] + ' eV',
        font: 'bold 10.5px ' + FONT, fill: '#111',
        align: 'right', verticalAlign: 'top',
        textAlign: 'right', textVerticalAlign: 'top'
      }
    });
  }

  // delay tag on the right, reading top to bottom
  option.graphic.push({
    type: 'text', z: 100,
    x: 1132, y: GRID_TOP + r * ROW_STEP + PLOT_H / 2,
    rotation: -Math.PI / 2,
    style: {
      text: delays[r],
      font: 'bold 16px ' + FONT, fill: '#111',
      align: 'center', verticalAlign: 'middle',
      textAlign: 'center', textVerticalAlign: 'middle'
    }
  });
}

const chart = echarts.init(document.getElementById('chart'), null, { renderer: 'canvas' });
chart.setOption(option);
</script>
</body>
</html>
